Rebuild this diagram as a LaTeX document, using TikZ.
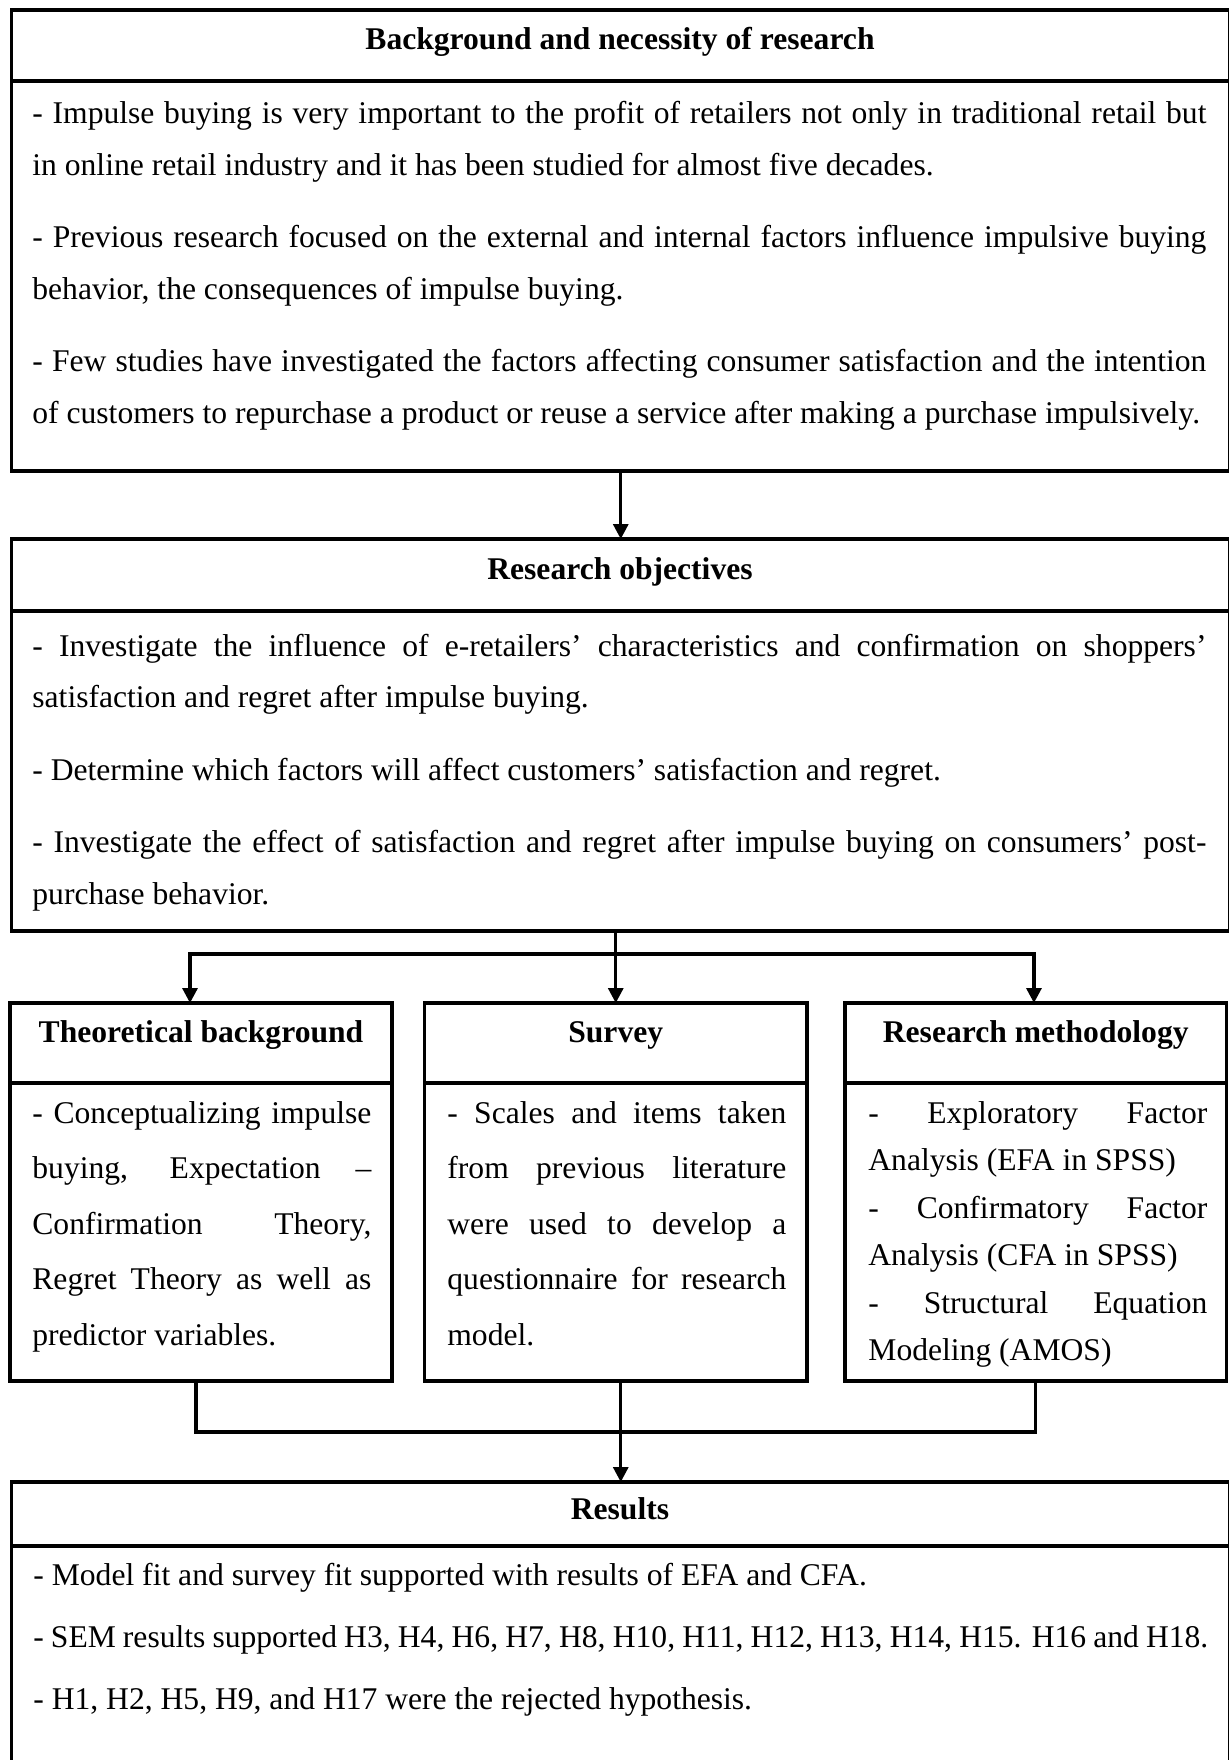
\documentclass[tikz,border=0pt]{standalone}
\usepackage{fontspec}
\setmainfont{Liberation Serif}
\usetikzlibrary{arrows.meta, positioning, calc}
\tolerance=10000
\hbadness=10000
\hyphenpenalty=10000
\exhyphenpenalty=10000
\newcommand{\paragap}{\par\vspace{10.5pt}}

\begin{document}
\begin{tikzpicture}[
  x=0.5pt, y=-0.5pt,
  frame/.style={draw, line width=1.6pt, inner sep=0pt, outer sep=0pt},
  headtext/.style={anchor=base, inner sep=0pt, font=\fontsize{15.8}{19}\selectfont\bfseries},
  bodytext/.style={anchor=base west, inner sep=0pt, align=justify, font=\fontsize{15.8}{25.75}\selectfont},
  boxtext/.style={bodytext, text width=169.5pt, font=\fontsize{15.8}{27.75}\selectfont},
  link/.style={line width=1.6pt},
  arr/.style={link, -{Triangle[length=7.5pt, width=7.5pt]}}
]
  \fill[white] (0,0) rectangle (1228,1760);
  \useasboundingbox (0,0) rectangle (1228,1760);

  % background and necessity
  \node[frame, anchor=north west, minimum width=609.25pt, minimum height=35.5pt] (bghead) at (11.5,10) {};
  \node[frame, below=0pt of bghead, minimum width=609.25pt, minimum height=195pt] (bgbody) {};
  \node[headtext] (bgtitle) at (620,50) {Background and necessity of research};
  \node[bodytext, text width=587pt] (bgtext) at (32,124) {%
    - Impulse buying is very important to the profit of retailers not only in traditional retail but\linebreak
    in online retail industry and it has been studied for almost five decades.\paragap
    - Previous research focused on the external and internal factors influence impulsive buying\linebreak
    behavior, the consequences of impulse buying.\paragap
    - Few studies have investigated the factors affecting consumer satisfaction and the intention\linebreak
    of customers to repurchase a product or reuse a service after making a purchase impulsively.};

  % objectives
  \node[frame, anchor=north west, minimum width=609.25pt, minimum height=36pt] (objhead) at (11.5,539) {};
  \node[frame, below=0pt of objhead, minimum width=609.25pt, minimum height=160pt] (objbody) {};
  \node[headtext] (objtitle) at (620,579) {Research objectives};
  \node[bodytext, text width=587pt] (objtext) at (32,656) {%
    - Investigate the influence of e-retailers’ characteristics and confirmation on shoppers’\linebreak
    satisfaction and regret after impulse buying.\paragap
    - Determine which factors will affect customers’ satisfaction and regret.\paragap
    - Investigate the effect of satisfaction and regret after impulse buying on consumers’ post-\linebreak
    purchase behavior.};

  % three middle boxes
  \node[frame, anchor=north west, minimum width=191pt, minimum height=40pt] (theohead) at (10,1003) {};
  \node[frame, below=0pt of theohead, minimum width=191pt, minimum height=149pt] (theobody) {};
  \node[headtext] (theotitle) at (201,1042) {Theoretical background};
  \node[boxtext] (theotext) at (32,1123) {%
    - Conceptualizing impulse\linebreak
    buying, Expectation –\linebreak
    Confirmation Theory,\linebreak
    Regret Theory as well as\linebreak
    predictor variables.};

  \node[frame, anchor=north west, minimum width=191.25pt, minimum height=40pt] (surveyhead) at (424.5,1003) {};
  \node[frame, below=0pt of surveyhead, minimum width=191.25pt, minimum height=149pt] (surveybody) {};
  \node[headtext] (surveytitle) at (615.75,1042) {Survey};
  \node[boxtext] (surveytext) at (447,1123) {%
    - Scales and items taken\linebreak
    from previous literature\linebreak
    were used to develop a\linebreak
    questionnaire for research\linebreak
    model.};

  \node[frame, anchor=north west, minimum width=190.75pt, minimum height=40pt] (methhead) at (845,1003) {};
  \node[frame, below=0pt of methhead, minimum width=190.75pt, minimum height=149pt] (methbody) {};
  \node[headtext] (methtitle) at (1035.75,1042) {Research methodology};
  \node[boxtext, font=\fontsize{15.8}{23.75}\selectfont] (methtext) at (868,1123) {%
    - Exploratory Factor\linebreak
    Analysis (EFA in SPSS)\par
    - Confirmatory Factor\linebreak
    Analysis (CFA in SPSS)\par
    - Structural Equation\linebreak
    Modeling (AMOS)};

  % results
  \node[frame, anchor=north west, minimum width=609.25pt, minimum height=32pt] (reshead) at (11.5,1482) {};
  \node[frame, below=0pt of reshead, minimum width=609.25pt, minimum height=130pt] (resbody) {};
  \node[headtext] (restitle) at (620,1519) {Results};
  \node[bodytext, text width=587.5pt] (restext) at (33,1585) {%
    - Model fit and survey fit supported with results of EFA and CFA.\par\vspace{5.25pt}
    \makebox[\linewidth][s]{- SEM results supported H3, H4, H6, H7, H8, H10, H11, H12, H13, H14, H15. H16 and H18.}\par\vspace{5.25pt}
    - H1, H2, H5, H9, and H17 were the rejected hypothesis.};

  % connectors
  \draw[arr] (bgbody.south) -- (objhead.north);
  \coordinate (split) at (615.75,954);
  \draw[arr] (objbody.south -| split) -- (surveyhead.north);
  \draw[arr] (split) -| ([xshift=-5.5pt]theohead.north);
  \draw[arr] (split) -| ([xshift=-0.9pt]methhead.north);
  \coordinate (merge) at ([yshift=25pt]reshead.north);
  \draw[link] ([xshift=-2.5pt]theobody.south) |- (merge);
  \draw[link] (methbody.south) |- (merge);
  \draw[arr] (reshead.north |- surveybody.south) -- (reshead.north);
\end{tikzpicture}
\end{document}
